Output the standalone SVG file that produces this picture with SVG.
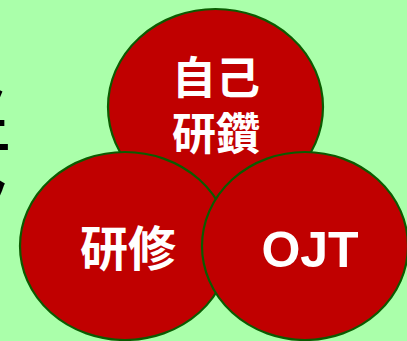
<svg xmlns="http://www.w3.org/2000/svg" width="407" height="341" viewBox="0 0 407 341">
<style>
.c{fill:#C00000;stroke:#0B5B00;stroke-width:2.2}
.t{fill:#fff;font-family:"Noto Sans CJK JP","Noto Sans",sans-serif;font-weight:700;text-anchor:middle}
.o{fill:#fff;font-family:"Liberation Sans",Arial,sans-serif;font-weight:700;text-anchor:middle}
.k{fill:#000;font-family:"Noto Sans CJK JP",sans-serif;font-weight:700}
</style>
<rect width="407" height="341" fill="#AAFFAA"/>
<g id="side-text">
<text class="k" x="-41" y="110" font-size="50">ト</text>
<text class="k" x="-40" y="148" font-size="50">上</text>
<text class="k" x="-40" y="215" font-size="50">ク</text>
</g>
<g id="self-study">
<ellipse class="c" cx="215.5" cy="107" rx="107.5" ry="98"/>
</g>
<g id="training">
<ellipse class="c" cx="125" cy="246" rx="105" ry="94"/>
</g>
<g id="ojt">
<ellipse class="c" cx="305" cy="246" rx="103" ry="94"/>
</g>
<g id="labels">
<text class="t" x="216" y="94" font-size="44">自己</text>
<text class="t" x="216" y="150" font-size="44">研鑽</text>
<text class="t" x="128" y="266" font-size="48">研修</text>
<text class="o" x="310" y="267" font-size="50">OJT</text>
</g>
</svg>
